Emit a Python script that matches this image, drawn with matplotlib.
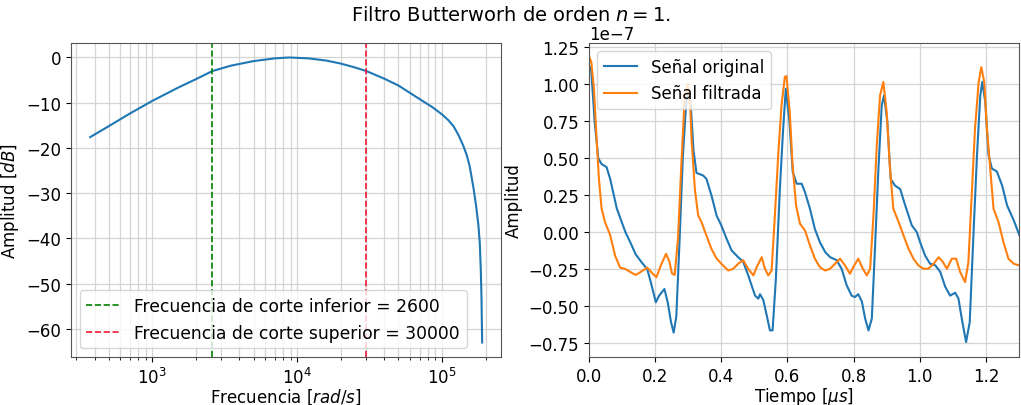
import matplotlib
matplotlib.use("Agg")
import matplotlib.pyplot as plt

# ---- Left: frequency response ----
freq = [373, 500, 700, 1000, 1500, 2000, 2600, 3500, 5000, 7000, 8800,
        12000, 16000, 20000, 25000, 30000, 40000, 50000, 70000, 85000, 100000,
        110000, 120000, 130000, 140000, 148000, 155000, 165000, 172000, 178000,
        182000, 185000, 187000, 189000]
mag_db = [-17.6, -15.2, -12.4, -9.6, -6.7, -4.8, -3.0, -1.8, -0.8, -0.2, 0.0,
          -0.2, -0.7, -1.35, -2.2, -3.0, -4.7, -6.2, -9.2, -10.9, -12.6,
          -13.8, -15.2, -17.2, -19.5, -21.6, -24.0, -29.0, -33.0, -37.0,
          -41.0, -47.0, -53.0, -63.0]
f_low = 2600
f_high = 30000

# ---- Right: time signals (amplitude in units of 1e-7) ----
t_orig = [0.000, 0.007, 0.017, 0.028, 0.038, 0.053, 0.064, 0.084, 0.110, 0.125,
          0.141, 0.161, 0.176, 0.187, 0.202, 0.212, 0.228, 0.238, 0.248, 0.256,
          0.264, 0.274, 0.284, 0.294, 0.301, 0.308, 0.316, 0.325, 0.345, 0.355,
          0.370, 0.386, 0.400, 0.416, 0.431, 0.451, 0.466, 0.481, 0.502, 0.512,
          0.517, 0.527, 0.537, 0.547, 0.555, 0.565, 0.577, 0.587, 0.595, 0.606,
          0.616, 0.628, 0.643, 0.653, 0.668, 0.683, 0.698, 0.714, 0.729, 0.749,
          0.764, 0.779, 0.794, 0.804, 0.814, 0.825, 0.835, 0.845, 0.855, 0.865,
          0.875, 0.885, 0.892, 0.902, 0.912, 0.925, 0.941, 0.956, 0.976, 0.991,
          1.001, 1.016, 1.031, 1.047, 1.062, 1.077, 1.092, 1.107, 1.117, 1.127,
          1.140, 1.151, 1.163, 1.173, 1.183, 1.189, 1.198, 1.208, 1.218, 1.233,
          1.249, 1.264, 1.284, 1.301]
y_orig = [1.13, 1.09, 0.75, 0.50, 0.46, 0.44, 0.36, 0.16, 0.00, -0.07,
          -0.15, -0.21, -0.25, -0.34, -0.475, -0.43, -0.385, -0.475, -0.61, -0.68,
          -0.57, -0.045, 0.52, 0.88, 0.95, 0.85, 0.55, 0.40, 0.383, 0.36,
          0.25, 0.11, 0.045, -0.045, -0.124, -0.17, -0.20, -0.29, -0.43, -0.45,
          -0.42, -0.46, -0.56, -0.665, -0.665, -0.315, 0.29, 0.70, 0.97, 0.744,
          0.406, 0.327, 0.327, 0.27, 0.158, 0.02, -0.068, -0.135, -0.17, -0.19,
          -0.25, -0.36, -0.43, -0.44, -0.42, -0.47, -0.586, -0.665, -0.586, -0.09,
          0.43, 0.857, 0.925, 0.744, 0.36, 0.315, 0.29, 0.18, 0.045, 0.0,
          -0.068, -0.158, -0.214, -0.225, -0.27, -0.37, -0.43, -0.41, -0.45, -0.586,
          -0.744, -0.61, 0.02, 0.52, 0.925, 1.015, 0.88, 0.52, 0.43, 0.41,
          0.315, 0.18, 0.08, -0.02]

t_filt = [0.000, 0.007, 0.015, 0.023, 0.030, 0.038, 0.048, 0.064, 0.079, 0.094,
          0.110, 0.125, 0.141, 0.156, 0.176, 0.192, 0.204, 0.217, 0.233, 0.243,
          0.251, 0.259, 0.269, 0.279, 0.289, 0.298, 0.306, 0.310, 0.320, 0.330,
          0.340, 0.355, 0.370, 0.386, 0.400, 0.421, 0.436, 0.451, 0.466, 0.481,
          0.497, 0.507, 0.522, 0.532, 0.542, 0.552, 0.562, 0.572, 0.582, 0.592,
          0.597, 0.607, 0.615, 0.626, 0.638, 0.653, 0.668, 0.683, 0.698, 0.714,
          0.729, 0.744, 0.759, 0.774, 0.789, 0.799, 0.814, 0.828, 0.840, 0.850,
          0.860, 0.870, 0.880, 0.890, 0.900, 0.910, 0.920, 0.936, 0.951, 0.966,
          0.981, 0.996, 1.011, 1.026, 1.042, 1.057, 1.070, 1.082, 1.097, 1.110,
          1.122, 1.137, 1.147, 1.157, 1.167, 1.178, 1.186, 1.195, 1.203, 1.213,
          1.223, 1.238, 1.253, 1.268, 1.284, 1.301]
y_filt = [1.19, 1.15, 0.97, 0.63, 0.36, 0.16, 0.07, -0.02, -0.16, -0.24,
          -0.25, -0.27, -0.29, -0.27, -0.24, -0.28, -0.305, -0.226, -0.147, -0.20,
          -0.28, -0.29, -0.045, 0.45, 0.90, 1.00, 0.85, 0.63, 0.29, 0.113,
          0.068, -0.023, -0.113, -0.18, -0.214, -0.26, -0.248, -0.214, -0.19, -0.248,
          -0.293, -0.237, -0.17, -0.248, -0.293, -0.26, 0.113, 0.52, 0.857, 1.05,
          1.055, 0.81, 0.47, 0.18, 0.056, 0.011, -0.09, -0.18, -0.237, -0.26,
          -0.248, -0.214, -0.18, -0.226, -0.282, -0.237, -0.18, -0.248, -0.293, -0.248,
          0.113, 0.587, 0.925, 1.015, 0.81, 0.43, 0.158, 0.068, -0.023, -0.113,
          -0.18, -0.226, -0.248, -0.248, -0.214, -0.17, -0.203, -0.248, -0.18, -0.18,
          -0.27, -0.338, -0.203, 0.248, 0.70, 1.015, 1.116, 1.015, 0.70, 0.43,
          0.158, 0.068, -0.068, -0.18, -0.214, -0.226]

W, H = 1021, 406
fig = plt.figure(figsize=(W / 100, H / 100), dpi=100)
plt.rcParams['font.size'] = 12

def pos(x0, x1, ytop, ybot):
    return [x0 / W, 1 - ybot / H, (x1 - x0) / W, (ybot - ytop) / H]

ax1 = fig.add_axes(pos(71, 501, 44, 358))
ax2 = fig.add_axes(pos(589, 1019, 44, 358))

grid_kw = dict(color='#d4d4d4', linewidth=0.9)

ax1.semilogx(freq, mag_db, color='#1f77b4')
ax1.axvline(f_low, color='g', linestyle='--', linewidth=1.2,
            label='Frecuencia de corte inferior = %d' % f_low)
ax1.axvline(f_high, color='#f01838', linestyle='--', linewidth=1.2,
            label='Frecuencia de corte superior = %d' % f_high)
ax1.set_xlim(275, 255000)
ax1.set_ylim(-66.2, 3.2)
ax1.grid(True, which='both', **grid_kw)
ax1.set_axisbelow(True)
ax1.set_xlabel('Frecuencia [$rad/s$]', labelpad=0)
ax1.set_ylabel('Amplitud [$dB$]')
ax1.legend(loc='lower left', fontsize=12.3)

ax2.plot(t_orig, [v * 1e-7 for v in y_orig], color='#1f77b4', label='Señal original')
ax2.plot(t_filt, [v * 1e-7 for v in y_filt], color='#ff7f0e', label='Señal filtrada')
ax2.set_xlim(0, 1.3)
ax2.set_ylim(-0.845e-7, 1.279e-7)
ax2.grid(True, **grid_kw)
ax2.set_axisbelow(True)
ax2.set_xlabel('Tiempo [$\\mu s$]', labelpad=0)
ax2.set_ylabel('Amplitud')
ax2.legend(loc='upper left', fontsize=12)

for ax in (ax1, ax2):
    ax.tick_params(labelsize=12)
    for s in ax.spines.values():
        s.set_color('#555555')

fig.suptitle('Filtro Butterworh de orden $n=1$.', fontsize=14, y=0.985)
fig.savefig('out.png', dpi=100)
